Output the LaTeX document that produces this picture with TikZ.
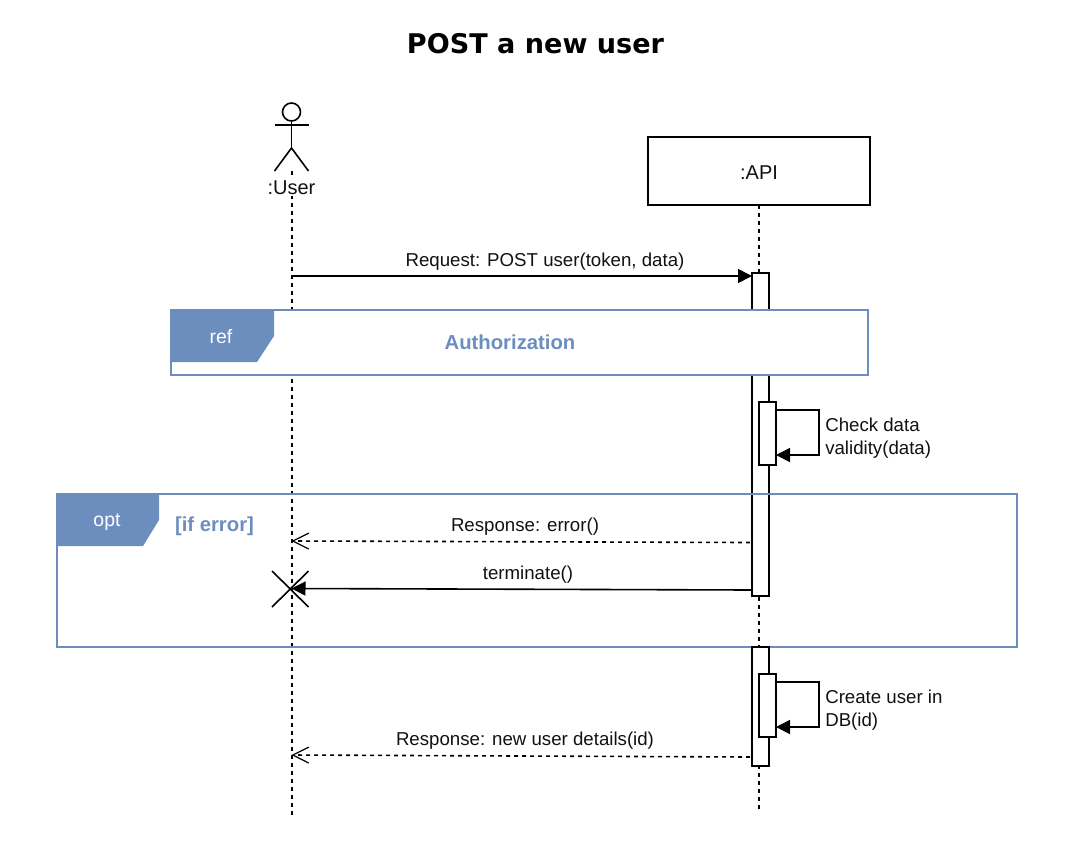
\documentclass[tikz,border=0pt]{standalone}
\usepackage{fontspec}
\setmainfont{Liberation Sans}
\newfontfamily\titlefont{DejaVu Sans}
\usetikzlibrary{arrows.meta,calc}
\definecolor{framecol}{HTML}{6C8EBF}
\definecolor{inkcol}{HTML}{111111}
\tikzset{
  px/.style={x=0.75pt,y=-0.75pt},
  line/.style={draw=black,line width=1.2pt},
  lifeline/.style={draw=black,line width=1.3pt,dash pattern=on 3pt off 3pt},
  activation/.style={draw=black,line width=1.2pt,fill=white,minimum width=12.75pt,inner sep=0pt,outer sep=0pt},
  headbox/.style={draw=black,line width=1.2pt,fill=white,inner sep=0pt,outer sep=0pt,minimum width=166.5pt,minimum height=51pt},
  syncmsg/.style={line,-{Triangle[length=10.5pt,width=10.5pt]}},
  replymsg/.style={draw=black,line width=1.2pt,dash pattern=on 3pt off 3pt,-{Straight Barb[length=12pt,width=12pt,line width=0.9pt]}},
  lbl/.style={font=\fontsize{14}{17}\selectfont,text=inkcol,inner sep=0pt},
  biglbl/.style={font=\fontsize{15}{18}\selectfont,text=inkcol,inner sep=0pt},
  tabtext/.style={font=\fontsize{14.6}{17}\selectfont,text=white,inner sep=0pt},
  frametext/.style={font=\bfseries\fontsize{15.2}{18}\selectfont,text=framecol,inner sep=0pt},
}
\begin{document}
\begin{tikzpicture}[px]
\useasboundingbox (0,0) rectangle (1071,850);
% title
\node[font=\titlefont\bfseries\fontsize{20.3}{24}\selectfont,text=black,inner sep=0pt] (title) at (535.5,44) {POST a new user};
% lifelines
\coordinate (userTop) at (292,171);
\coordinate (userBot) at (292,818);
\node[headbox] (api) at (759,171) {};
\node[biglbl] (apilabel) at (759,172.5) {:API};
\coordinate (apiBot) at (759,812);
\draw[lifeline] (userTop) -- (userBot);
\draw[lifeline] (api.south) -- (apiBot);
% actor
\node[draw=black,line width=1.2pt,fill=white,circle,minimum size=13.5pt,inner sep=0pt,outer sep=0pt] (head) at (291.5,112) {};
\coordinate (crotch) at (291.5,148);
\coordinate (armL) at (274.5,125);
\coordinate (armR) at (308.5,125);
\coordinate (footL) at (274.5,171);
\coordinate (footR) at (308.5,171);
\draw[line] (head.south) -- (crotch);
\draw[line] (armL) -- (armR);
\draw[line] (footL) -- (crotch) -- (footR);
\node[biglbl,fill=white,inner ysep=1pt] (userlabel) at (291.5,187.5) {:User};
% activation under the ref frame
\node[activation,minimum height=242.25pt] (act1) at (760.5,434.5) {};
\node[activation,minimum height=47.25pt] (act1b) at (767.5,433.5) {};
% ref frame
\node[draw=framecol,line width=1.1pt,fill=white,inner sep=0pt,outer sep=0pt,minimum width=522.75pt,minimum height=48.75pt] (refframe) at (519.5,342.5) {};
\fill[framecol] (refframe.north west) -- ++(103,0) -- ++(0,26) -- ++(-17,26) -- ++(-86,0) -- cycle;
\node[tabtext] (reflabel) at (221,337) {ref};
\node[frametext] (authlabel) at (510,342) {Authorization};
% opt frame
\node[draw=framecol,line width=1.1pt,inner sep=0pt,outer sep=0pt,minimum width=720pt,minimum height=114.75pt] (optframe) at (537,570.5) {};
\fill[framecol] (optframe.north west) -- ++(102,0) -- ++(0,26) -- ++(-16,26) -- ++(-86,0) -- cycle;
\node[tabtext] (optlabel) at (107,522) {opt};
\node[frametext] (condlabel) at (214.5,526) {[if error]};
% activation over the opt frame
\node[activation,minimum height=89.25pt] (act2) at (760.5,706.5) {};
\node[activation,minimum height=47.25pt] (act2b) at (767.5,705.5) {};
% messages
\coordinate (reqU) at (291.5,276);
\draw[syncmsg] (reqU) -- (reqU -| act1.west);
\node[lbl] (reqlabel) at (545,261.5) {Request: POST user(token, data)};
\coordinate (s1a) at (819,410);
\coordinate (s1b) at (819,455);
\draw[syncmsg] (act1b.east |- s1a) -- (s1a) -- (s1b) -- (act1b.east |- s1b);
\node[lbl,align=left,anchor=west] (s1label) at (825,438) {Check data\\validity(data)};
\coordinate (errU) at (291.5,541);
\coordinate (errA) at (750,542.5);
\draw[replymsg] (errA) -- (errU);
\node[lbl] (errlabel) at (525,527) {Response: error()};
\coordinate (termU) at (291.5,588.5);
\coordinate (termA) at (752,590);
\draw[syncmsg] (termA) -- (termU);
\node[lbl] (termlabel) at (528,575) {terminate()};
\coordinate (xa) at (272,571);
\coordinate (xb) at (308.5,607);
\coordinate (xc) at (308.5,571);
\coordinate (xd) at (272,607);
\draw[line] (xa) -- (xb);
\draw[line] (xc) -- (xd);
\coordinate (s2a) at (819,682);
\coordinate (s2b) at (819,727);
\draw[syncmsg] (act2b.east |- s2a) -- (s2a) -- (s2b) -- (act2b.east |- s2b);
\node[lbl,align=left,anchor=west] (s2label) at (825,710) {Create user in\\DB(id)};
\coordinate (newU) at (291.5,755);
\coordinate (newA) at (750,757);
\draw[replymsg] (newA) -- (newU);
\node[lbl] (newlabel) at (525,740.5) {Response: new user details(id)};
\end{tikzpicture}
\end{document}
